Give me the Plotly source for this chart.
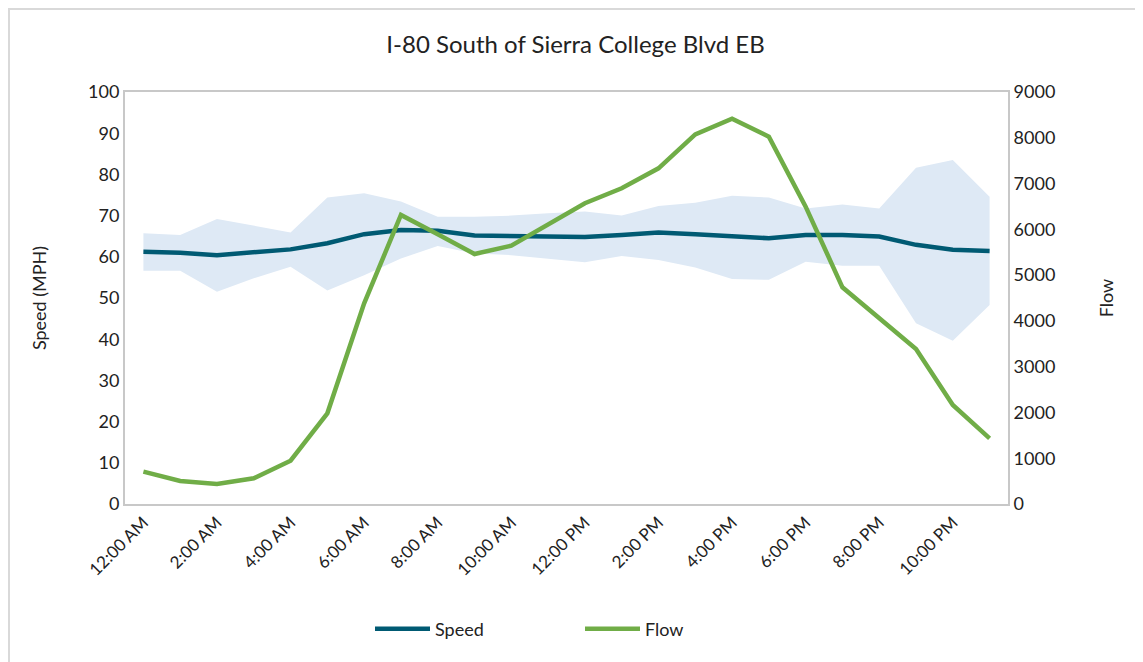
import plotly.graph_objects as go

# Horas do dia (categorias do eixo x)
hours = ["12:00 AM", "1:00 AM", "2:00 AM", "3:00 AM", "4:00 AM", "5:00 AM",
         "6:00 AM", "7:00 AM", "8:00 AM", "9:00 AM", "10:00 AM", "11:00 AM",
         "12:00 PM", "1:00 PM", "2:00 PM", "3:00 PM", "4:00 PM", "5:00 PM",
         "6:00 PM", "7:00 PM", "8:00 PM", "9:00 PM", "10:00 PM", "11:00 PM"]

# Velocidade media (MPH)
speed = [61.2, 61.0, 60.4, 61.1, 61.8, 63.3, 65.5, 66.5, 66.3, 65.2, 65.1, 65.0,
         64.8, 65.3, 65.9, 65.5, 65.0, 64.5, 65.3, 65.3, 64.9, 62.9, 61.7, 61.4]

# Faixa de velocidade (limite superior e inferior)
speed_high = [65.7, 65.3, 69.2, 67.5, 65.9, 74.4, 75.4, 73.4, 69.7, 69.7, 70.0, 70.6,
              71.0, 70.0, 72.3, 73.1, 74.8, 74.4, 71.7, 72.7, 71.7, 81.6, 83.5, 74.6]
speed_low = [56.6, 56.6, 51.5, 54.8, 57.6, 51.8, 55.5, 59.6, 62.6, 60.8, 60.4, 59.6,
             58.7, 60.2, 59.2, 57.4, 54.6, 54.4, 58.8, 57.8, 57.8, 43.9, 39.6, 48.3]

# Fluxo de veiculos
flow = [706, 502, 437, 561, 946, 1981, 4384, 6313, 5891, 5461, 5643, 6110,
        6569, 6896, 7333, 8075, 8417, 8024, 6495, 4733, 4056, 3386, 2163, 1435]

tick_hours = hours[::2]

font_name = "Lato, Open Sans, sans-serif"
axis_grey = "#c8c8c8"

fig = go.Figure()

# Limite inferior da faixa (sem linha)
fig.add_trace(
    go.Scatter(
        x = hours,
        y = speed_low,
        mode = "lines",
        line = dict(width = 0),
        showlegend = False,
        hoverinfo = "skip"
    )
)

# Limite superior, preenchido ate o inferior
fig.add_trace(
    go.Scatter(
        x = hours,
        y = speed_high,
        mode = "lines",
        line = dict(width = 0),
        fill = "tonexty",
        fillcolor = "#dee9f5",
        showlegend = False,
        hoverinfo = "skip"
    )
)

# Linha de velocidade
fig.add_trace(
    go.Scatter(
        x = hours,
        y = speed,
        name = "Speed",
        mode = "lines",
        line = dict(color = "#005a73", width = 4.5)
    )
)

# Linha de fluxo no eixo secundario
fig.add_trace(
    go.Scatter(
        x = hours,
        y = flow,
        name = "Flow",
        mode = "lines",
        line = dict(color = "#70ad47", width = 4.5),
        yaxis = "y2"
    )
)

# A pagina tem margem de 8px no body, entao a figura e deslocada
W, H = 1135, 654
ml, mr, mt, mb = 117, 135, 84, 158
pw = W - ml - mr
ph = H - mt - mb

fig.update_layout(
    width = W,
    height = H,
    paper_bgcolor = "white",
    plot_bgcolor = "white",
    font = dict(family = font_name, size = 18, color = "#222222"),
    margin = dict(l = ml, r = mr, t = mt, b = mb),
    title = dict(
        text = "I-80 South of Sierra College Blvd EB",
        x = 0.5,
        xanchor = "center",
        y = 1 - 37 / H,
        yanchor = "middle",
        font = dict(size = 24, color = "#222222")
    ),
    xaxis = dict(
        type = "category",
        range = [-0.5, len(hours) - 0.5],
        tickmode = "array",
        tickvals = tick_hours,
        ticktext = tick_hours,
        tickangle = -45,
        showgrid = False,
        showline = True,
        linecolor = axis_grey,
        linewidth = 2,
        mirror = True,
        ticks = "",
        tickfont = dict(size = 17),
        zeroline = False
    ),
    yaxis = dict(
        title = dict(text = "Speed (MPH)", font = dict(size = 18), standoff = 37),
        range = [0, 100],
        dtick = 10,
        showgrid = False,
        showline = True,
        linecolor = axis_grey,
        linewidth = 2,
        ticks = "",
        zeroline = False,
        tickfont = dict(size = 18)
    ),
    yaxis2 = dict(
        title = dict(text = "Flow", font = dict(size = 18), standoff = 46),
        range = [0, 9000],
        dtick = 1000,
        overlaying = "y",
        side = "right",
        showgrid = False,
        showline = True,
        linecolor = axis_grey,
        linewidth = 2,
        ticks = "",
        zeroline = False,
        tickfont = dict(size = 18)
    ),
    legend = dict(
        orientation = "h",
        x = (372 - ml - 10) / pw,
        xanchor = "left",
        y = -(629 - 8 - (mt + ph)) / ph,
        yanchor = "middle",
        font = dict(size = 18),
        itemwidth = 55,
        entrywidth = 140,
        traceorder = "normal"
    ),
    shapes = [
        dict(
            type = "rect",
            xref = "paper",
            yref = "paper",
            x0 = -(ml - 1) / pw,
            x1 = 1.3,
            y0 = -0.6,
            y1 = 1 + (mt - 1) / ph,
            line = dict(color = "#d9d9d9", width = 2),
            layer = "below"
        )
    ]
)

fig.write_html("out.html")
